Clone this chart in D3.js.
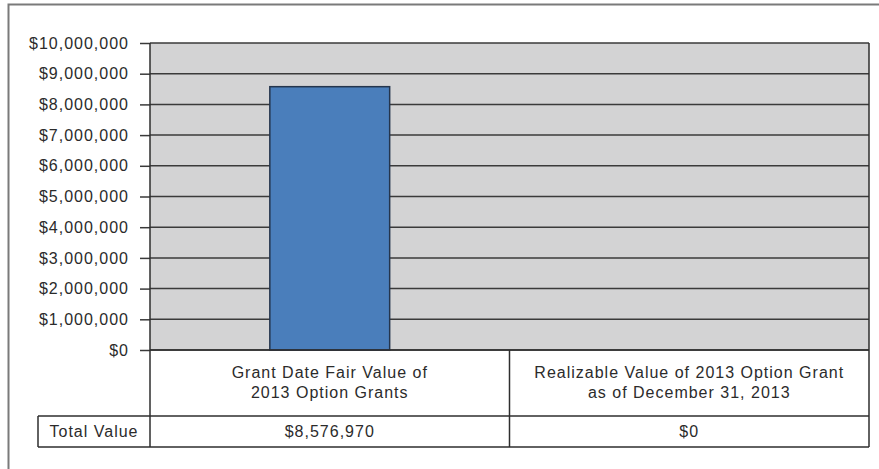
<!DOCTYPE html>
<html>
<head>
<meta charset="utf-8">
<script src="https://cdn.jsdelivr.net/npm/d3@7"></script>
<style>
  body { margin: 0; background: #fff; }
  svg text { font-family: "Liberation Sans", Arial, sans-serif; font-size: 16px; letter-spacing: 1px; fill: #2b2b2b; }
</style>
</head>
<body>
<div id="viz"></div>
<script>
// chart data
const categories = ["grant", "realizable"];
const categoryLines = [
    ["Grant Date Fair Value of", "2013 Option Grants"],
    ["Realizable Value of 2013 Option Grant", "as of December 31, 2013"]
];
const values = [8576970, 0];
const tableLabels = ["$8,576,970", "$0"];
const rowHeader = "Total Value";
const yTicks = [0, 1000000, 2000000, 3000000, 4000000, 5000000, 6000000, 7000000, 8000000, 9000000, 10000000];

const width = 879,
    height = 469;

// plot box
const plot = { left: 150, right: 869, top: 43, bottom: 350 };
const catBottom = 416,
    tableBottom = 447,
    headerLeft = 38;

const svg = d3.select("#viz")
    .append("svg")
    .attr("width", width)
    .attr("height", height);

// outer frame (right/bottom run off the picture)
svg.append("path")
    .attr("d", `M8.5,${height + 2} V4.5 H${width + 2}`)
    .attr("fill", "none")
    .attr("stroke", "#7a7a7a")
    .attr("stroke-width", 2);

var x = d3.scaleBand()
    .domain(categories)
    .range([plot.left, plot.right])
    .padding(0);

var y = d3.scaleLinear()
    .domain([0, 10000000])
    .range([plot.bottom, plot.top]);

// grey plot area
svg.append("rect")
    .attr("x", plot.left)
    .attr("y", plot.top)
    .attr("width", plot.right - plot.left)
    .attr("height", plot.bottom - plot.top)
    .attr("fill", "#d3d3d4");

// gridlines
svg.append("g")
    .selectAll("line")
    .data(yTicks)
    .enter()
    .append("line")
        .attr("x1", plot.left)
        .attr("x2", plot.right)
        .attr("y1", d => y(d))
        .attr("y2", d => y(d))
        .attr("stroke", "#3a3a3a")
        .attr("stroke-width", 1.5);

// bars
const bw = x.bandwidth() / 3;
svg.append("g")
    .selectAll("rect")
    .data(values)
    .enter()
    .append("rect")
        .attr("x", (d, i) => x(categories[i]) + bw)
        .attr("y", d => y(d))
        .attr("width", bw)
        .attr("height", d => y(0) - y(d))
        .attr("fill", "#4a7ebb")
        .attr("stroke", "#24354d")
        .attr("stroke-width", 1.5)
        .style("display", d => d > 0 ? null : "none");

// y axis
const yAxis = svg.append("g")
    .attr("transform", `translate(${plot.left},0)`)
    .call(d3.axisLeft(y)
        .tickValues(yTicks)
        .tickSize(10)
        .tickPadding(11)
        .tickFormat(d => "$" + d3.format(",")(d)));
yAxis.select(".domain").remove();
yAxis.selectAll(".tick line").attr("stroke", "#3a3a3a").attr("stroke-width", 1.5);
yAxis.selectAll(".tick text").attr("fill", null).style("font-size", null).style("font-family", null);
yAxis.attr("font-size", null).attr("font-family", null);

// table lines
const lines = svg.append("g")
    .attr("stroke", "#2e2e2e")
    .attr("stroke-width", 1.5);
lines.append("line").attr("x1", plot.left).attr("x2", plot.left).attr("y1", plot.top).attr("y2", tableBottom);
lines.append("line").attr("x1", plot.right).attr("x2", plot.right).attr("y1", plot.top).attr("y2", tableBottom);
lines.append("line").attr("x1", x(categories[1])).attr("x2", x(categories[1])).attr("y1", plot.bottom).attr("y2", tableBottom);
lines.append("line").attr("x1", headerLeft).attr("x2", headerLeft).attr("y1", catBottom).attr("y2", tableBottom);
lines.append("line").attr("x1", plot.left).attr("x2", plot.right).attr("y1", plot.bottom).attr("y2", plot.bottom);
lines.append("line").attr("x1", headerLeft).attr("x2", plot.right).attr("y1", catBottom).attr("y2", catBottom);
lines.append("line").attr("x1", headerLeft).attr("x2", plot.right).attr("y1", tableBottom).attr("y2", tableBottom);

// category labels
const catG = svg.append("g")
    .selectAll("text")
    .data(categoryLines)
    .enter()
    .append("text")
        .attr("text-anchor", "middle")
        .attr("x", (d, i) => x(categories[i]) + x.bandwidth() / 2)
        .attr("y", (plot.bottom + catBottom) / 2);
catG.selectAll("tspan")
    .data(d => d)
    .enter()
    .append("tspan")
        .attr("x", function() { return d3.select(this.parentNode).attr("x"); })
        .attr("dy", (d, i) => i === 0 ? "-0.3em" : "1.25em")
        .text(d => d);

// table row
svg.append("text")
    .attr("x", (headerLeft + plot.left) / 2)
    .attr("y", (catBottom + tableBottom) / 2)
    .attr("dy", "0.35em")
    .attr("text-anchor", "middle")
    .text(rowHeader);

svg.append("g")
    .selectAll("text")
    .data(tableLabels)
    .enter()
    .append("text")
        .attr("x", (d, i) => x(categories[i]) + x.bandwidth() / 2)
        .attr("y", (catBottom + tableBottom) / 2)
        .attr("dy", "0.35em")
        .attr("text-anchor", "middle")
        .text(d => d);
</script>
</body>
</html>
